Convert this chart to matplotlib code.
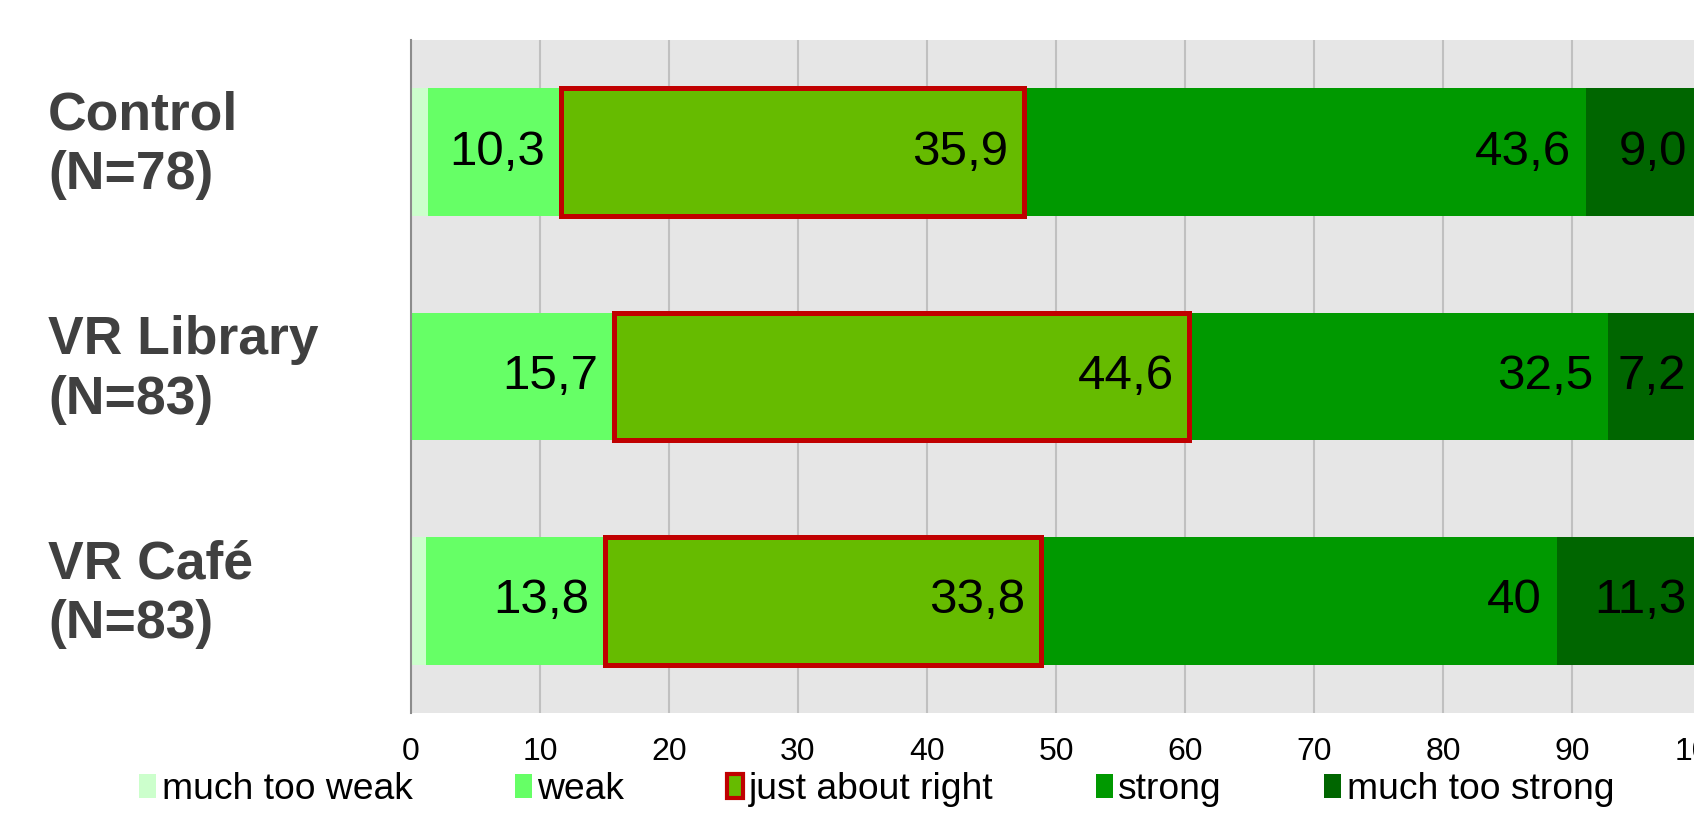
import matplotlib.pyplot as plt
import matplotlib.transforms as mtransforms
from matplotlib.patches import Patch
import numpy as np

plt.rcParams['font.family'] = ['Liberation Sans', 'DejaVu Sans']

groups = ["Control\n(N=78)", "VR Library\n(N=83)", "VR Café\n(N=83)"]
categories = ["much too weak", "weak", "just about right", "strong", "much too strong"]

much_too_weak = [1.3, 0.0, 1.2]
weak = [10.3, 15.7, 13.8]
just_right = [35.9, 44.6, 33.8]
strong = [43.6, 32.5, 40.0]
much_too_strong = [9.0, 7.2, 11.3]

# printed values (comma decimals, as in the original)
weak_txt = ["10,3", "15,7", "13,8"]
just_right_txt = ["35,9", "44,6", "33,8"]
strong_txt = ["43,6", "32,5", "40"]
much_too_strong_txt = ["9,0", "7,2", "11,3"]

colors = ["#CCFFCC", "#66FF66", "#66BB00", "#009900", "#006600"]
red = "#C00000"

fig = plt.figure(figsize=(16.94, 8.13), dpi=100)
ax = fig.add_axes([411 / 1694, 1 - 713 / 813, 1290 / 1694, 673 / 813])
ax.set_facecolor("#E6E6E6")

y = np.arange(len(groups))
series = [much_too_weak, weak, just_right, strong, much_too_strong]
texts = [None, weak_txt, just_right_txt, strong_txt, much_too_strong_txt]
left = np.zeros(len(groups))
h = 0.57
for i, (vals, txt) in enumerate(zip(series, texts)):
    vals = np.array(vals)
    if i == 2:
        ax.barh(y, vals, left=left, height=h, color=colors[i], edgecolor=red,
                linewidth=3.6, zorder=4)
    else:
        ax.barh(y, vals, left=left, height=h, color=colors[i], linewidth=0, zorder=3)
    if txt is not None:
        for k in range(len(groups)):
            ax.annotate(txt[k], (left[k] + vals[k], y[k]), xytext=(-11, 0),
                        textcoords="offset points", ha="right", va="center",
                        fontsize=35.5, color="black", zorder=5,
                        annotation_clip=False)
    left += vals

ax.set_xlim(0, 100)
ax.set_ylim(2.5, -0.5)
ax.set_xticks(np.arange(0, 101, 10))
ax.tick_params(axis="x", length=0, pad=17, labelsize=23)
ax.set_yticks([])
ax.grid(axis="x", color="#C0C0C0", linewidth=1.5, zorder=0)
ax.set_axisbelow(True)
for s in ["top", "right", "bottom"]:
    ax.spines[s].set_visible(False)
ax.spines["left"].set_color("#8C8C8C")
ax.spines["left"].set_linewidth(1.5)
ax.spines["left"].set_zorder(6)

# group names on the left
trans = mtransforms.blended_transform_factory(fig.transFigure, ax.transData)
for k, g in enumerate(groups):
    ax.text(48 / 1694, y[k] - 0.03, g, transform=trans, ha="left", va="center",
            fontsize=38.5, fontweight="bold", color="#404040", linespacing=1.25,
            clip_on=False)

handles = []
for i, c in enumerate(categories):
    if i == 2:
        handles.append(Patch(facecolor=colors[i], edgecolor=red, linewidth=3, label=c))
    else:
        handles.append(Patch(facecolor=colors[i], edgecolor="none", label=c))
fig.legend(handles=handles, loc="lower left", bbox_to_anchor=(117 / 1694, -0.02),
           ncol=5, frameon=False, fontsize=26.8, handlelength=0.45, handleheight=0.6,
           handletextpad=0.15, columnspacing=2.75, borderaxespad=0.2)

fig.savefig("out.png", dpi=100)
